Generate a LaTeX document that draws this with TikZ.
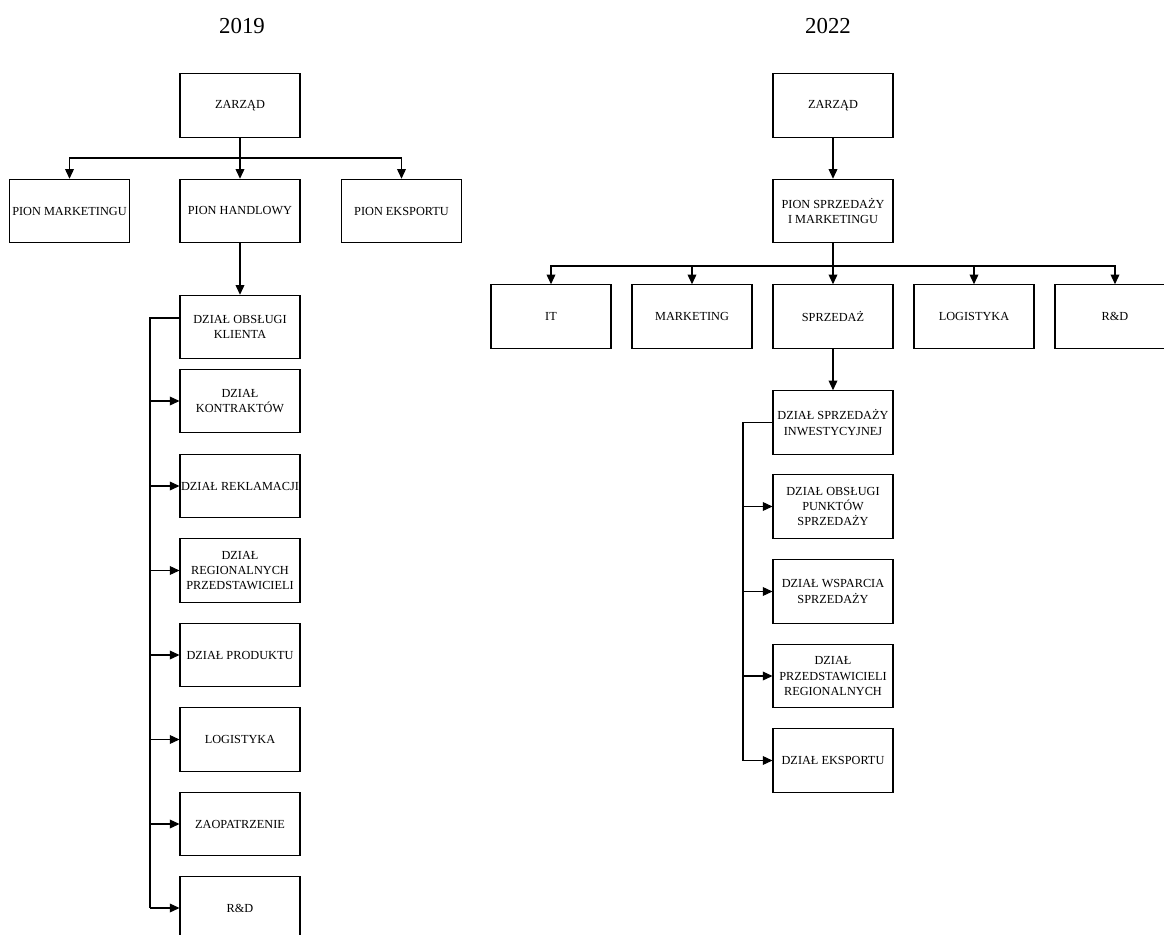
\documentclass[tikz,border=0pt]{standalone}
\usepackage{fontspec}
\setmainfont{Liberation Serif}
\usetikzlibrary{arrows.meta}

\begin{document}
\begin{tikzpicture}[
  box/.style={draw,line width=0.6pt,minimum width=2.4cm,minimum height=1.27cm,inner xsep=0pt,inner ysep=1pt,align=center,font=\fontsize{7}{8.6}\selectfont},
  arr/.style={line width=0.6pt,-{Triangle[length=5.5pt,width=5pt]}},
  plain/.style={line width=0.6pt},
  year/.style={font=\fontsize{13}{15}\selectfont}]
\path[use as bounding box,fill=white] (0cm,0cm) rectangle (23.28cm,-18.7cm);
\node[year] (t19) at (4.84cm,-0.52cm) {2019};
\node[year] (t22) at (16.56cm,-0.52cm) {2022};
% 2019
\node[box] (zarzad1) at (4.8cm,-2.11cm) {ZARZĄD};
\node[box] (marketing1) at (1.39cm,-4.22cm) {PION MARKETINGU};
\node[box] (handlowy) at (4.8cm,-4.22cm) {PION HANDLOWY};
\node[box] (eksport1) at (8.03cm,-4.22cm) {PION EKSPORTU};
\node[box] (obsluga) at (4.8cm,-6.54cm) {DZIAŁ OBSŁUGI\\KLIENTA};
\node[box] (kontrakty) at (4.8cm,-8.02cm) {DZIAŁ\\KONTRAKTÓW};
\node[box] (reklamacje) at (4.8cm,-9.72cm) {DZIAŁ REKLAMACJI};
\node[box] (regionalni) at (4.8cm,-11.41cm) {DZIAŁ\\REGIONALNYCH\\PRZEDSTAWICIELI};
\node[box] (produkt) at (4.8cm,-13.1cm) {DZIAŁ PRODUKTU};
\node[box] (logistyka1) at (4.8cm,-14.79cm) {LOGISTYKA};
\node[box] (zaopatrzenie) at (4.8cm,-16.48cm) {ZAOPATRZENIE};
\node[box] (rd1) at (4.8cm,-18.16cm) {R\&D};
\coordinate (bus1) at (4.8cm,-3.16cm);
\coordinate (kreg1) at (3cm,0cm);
\draw[plain] (zarzad1.south) -- (bus1);
\draw[arr] (bus1) -| (marketing1.north);
\draw[arr] (bus1) -- (handlowy.north);
\draw[arr] (bus1) -| (eksport1.north);
\draw[arr] (handlowy.south) -- (obsluga.north);
\draw[plain] ([yshift=0.18cm]obsluga.west) -| (kreg1 |- rd1.west);
\draw[arr] (kreg1 |- kontrakty.west) -- (kontrakty.west);
\draw[arr] (kreg1 |- reklamacje.west) -- (reklamacje.west);
\draw[arr] (kreg1 |- regionalni.west) -- (regionalni.west);
\draw[arr] (kreg1 |- produkt.west) -- (produkt.west);
\draw[arr] (kreg1 |- logistyka1.west) -- (logistyka1.west);
\draw[arr] (kreg1 |- zaopatrzenie.west) -- (zaopatrzenie.west);
\draw[arr] (kreg1 |- rd1.west) -- (rd1.west);
% 2022
\node[box] (zarzad2) at (16.66cm,-2.11cm) {ZARZĄD};
\node[box] (pion2) at (16.66cm,-4.22cm) {PION SPRZEDAŻY\\I MARKETINGU};
\node[box] (it) at (11.02cm,-6.33cm) {IT};
\node[box] (marketing2) at (13.84cm,-6.33cm) {MARKETING};
\node[box] (sprzedaz) at (16.66cm,-6.33cm) {SPRZEDAŻ};
\node[box] (logistyka2) at (19.48cm,-6.33cm) {LOGISTYKA};
\node[box] (rd2) at (22.3cm,-6.33cm) {R\&D};
\node[box] (inwest) at (16.66cm,-8.45cm) {DZIAŁ SPRZEDAŻY\\INWESTYCYJNEJ};
\node[box] (punkty) at (16.66cm,-10.13cm) {DZIAŁ OBSŁUGI\\PUNKTÓW\\SPRZEDAŻY};
\node[box] (wsparcie) at (16.66cm,-11.83cm) {DZIAŁ WSPARCIA\\SPRZEDAŻY};
\node[box] (przedst) at (16.66cm,-13.52cm) {DZIAŁ\\PRZEDSTAWICIELI\\REGIONALNYCH};
\node[box] (eksport2) at (16.66cm,-15.21cm) {DZIAŁ EKSPORTU};
\coordinate (bus2) at (16.66cm,-5.32cm);
\coordinate (kreg2) at (14.86cm,0cm);
\draw[arr] (zarzad2.south) -- (pion2.north);
\draw[plain] (pion2.south) -- (bus2);
\draw[arr] (bus2) -| (it.north);
\draw[arr] (bus2) -| (marketing2.north);
\draw[arr] (bus2) -- (sprzedaz.north);
\draw[arr] (bus2) -| (logistyka2.north);
\draw[arr] (bus2) -| (rd2.north);
\draw[arr] (sprzedaz.south) -- (inwest.north);
\draw[plain] (inwest.west) -| (kreg2 |- eksport2.west);
\draw[arr] (kreg2 |- punkty.west) -- (punkty.west);
\draw[arr] (kreg2 |- wsparcie.west) -- (wsparcie.west);
\draw[arr] (kreg2 |- przedst.west) -- (przedst.west);
\draw[arr] (kreg2 |- eksport2.west) -- (eksport2.west);
\end{tikzpicture}
\end{document}
